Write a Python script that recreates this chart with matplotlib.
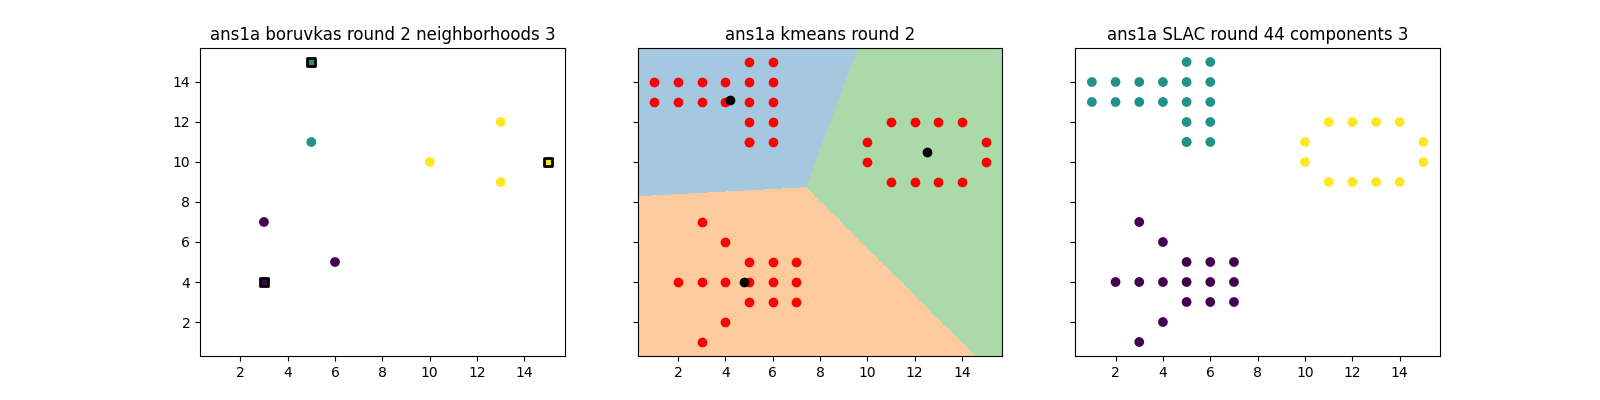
import numpy as np
import matplotlib.pyplot as plt
from matplotlib.colors import ListedColormap, to_rgb

# full point set (one duplicate at (5, 11))
xs = [1, 2, 3, 4, 5, 6, 1, 2, 3, 4, 5, 6, 5, 6, 5, 6, 5, 6, 5,
      11, 12, 13, 14, 10, 15, 10, 15, 11, 12, 13, 14,
      3, 4, 5, 6, 7, 2, 3, 4, 5, 6, 7, 5, 6, 7, 4, 3]
ys = [14, 14, 14, 14, 14, 14, 13, 13, 13, 13, 13, 13, 15, 15, 12, 12, 11, 11, 11,
      12, 12, 12, 12, 11, 11, 10, 10, 9, 9, 9, 9,
      7, 6, 5, 5, 5, 4, 4, 4, 4, 4, 4, 3, 3, 3, 2, 1]
slac_labels = [1] * 19 + [2] * 12 + [0] * 16

# boruvka round 2: remaining points and neighbourhood roots
bor_x = [3, 6, 5, 10, 13, 13]
bor_y = [7, 5, 11, 10, 12, 9]
bor_lab = [0, 0, 1, 2, 2, 2]
root_x = [3, 5, 15]
root_y = [4, 15, 10]
root_lab = [0, 1, 2]

# kmeans round 2 centroids
cent_x = [4.21, 4.81, 12.5]
cent_y = [13.11, 4.0, 10.5]

lims = (0.3, 15.7)

fig, axes = plt.subplots(1, 3, figsize=(16, 4), sharex=True, sharey=True)

# --- boruvka
ax = axes[0]
ax.scatter(bor_x, bor_y, c=bor_lab, cmap="viridis", vmin=0, vmax=2)
ax.scatter(root_x, root_y, c=root_lab, cmap="viridis", vmin=0, vmax=2,
           marker="s", edgecolors="black", linewidths=2)
ax.set_title("ans1a boruvkas round 2 neighborhoods 3")

# --- kmeans: regions of nearest centroid
ax = axes[1]
gx, gy = np.meshgrid(np.linspace(lims[0], lims[1], 900),
                     np.linspace(lims[0], lims[1], 900))
d = [(gx - cx) ** 2 + (gy - cy) ** 2 for cx, cy in zip(cent_x, cent_y)]
region = np.argmin(np.array(d), axis=0)
soft = [tuple(1 - 0.4 * (1 - np.array(to_rgb(c))))
        for c in ["tab:blue", "tab:orange", "tab:green"]]
ax.imshow(region, extent=(lims[0], lims[1], lims[0], lims[1]), origin="lower",
          cmap=ListedColormap(soft), aspect="auto", interpolation="nearest")
ax.scatter(xs, ys, c="red")
ax.scatter(cent_x, cent_y, c="black")
ax.set_title("ans1a kmeans round 2")

# --- SLAC
ax = axes[2]
ax.scatter(xs, ys, c=slac_labels, cmap="viridis", vmin=0, vmax=2)
ax.set_title("ans1a SLAC round 44 components 3")

axes[0].set_xlim(lims)
axes[0].set_ylim(lims)
axes[0].set_xticks(range(2, 16, 2))
axes[0].set_yticks(range(2, 16, 2))

fig.savefig("out.png", dpi=100)
